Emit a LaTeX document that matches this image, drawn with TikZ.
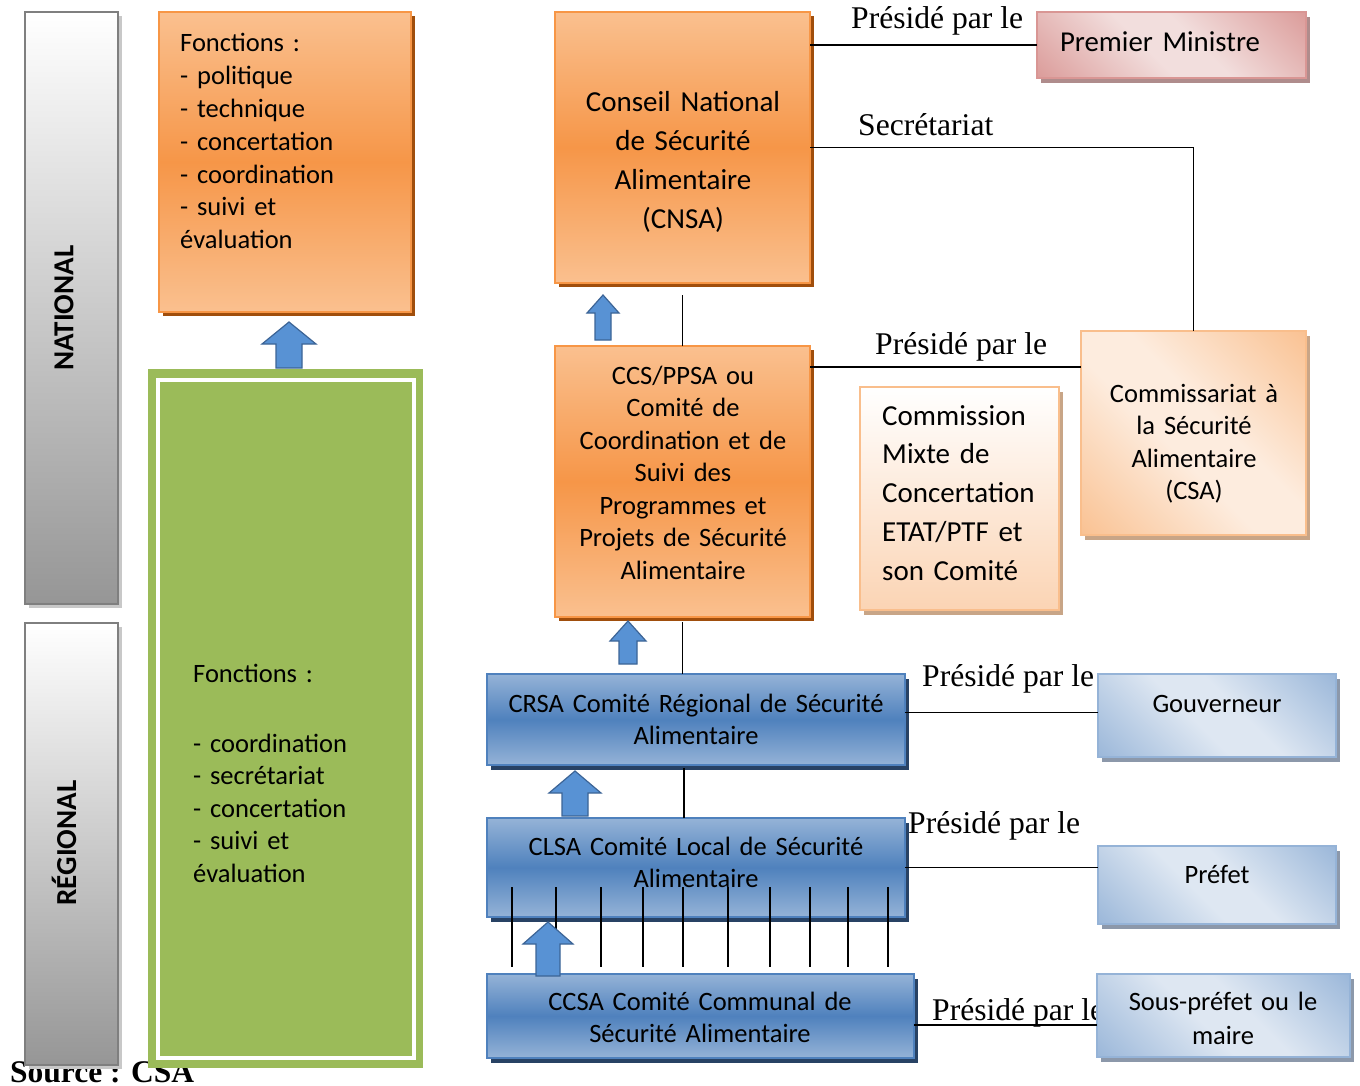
\documentclass[tikz,border=0pt]{standalone}
\usepackage{fontspec}
\setmainfont{Carlito}
\newfontfamily\tnr{Liberation Serif}
\usetikzlibrary{shadows,calc}
\definecolor{ORl}{RGB}{250,192,143}
\definecolor{ORm}{RGB}{246,150,72}
\definecolor{ORb}{RGB}{247,150,70}
\definecolor{ORs}{RGB}{160,78,12}
\definecolor{BLl}{RGB}{149,179,215}
\definecolor{BLm}{RGB}{79,129,189}
\definecolor{BLb}{RGB}{79,129,189}
\definecolor{BLs}{RGB}{40,66,100}
\definecolor{LBd}{RGB}{149,179,215}
\definecolor{LBl}{RGB}{222,231,242}
\definecolor{LBs}{RGB}{140,152,170}
\definecolor{PKd}{RGB}{217,150,148}
\definecolor{PKl}{RGB}{242,222,221}
\definecolor{PKs}{RGB}{175,140,140}
\definecolor{PCd}{RGB}{249,190,140}
\definecolor{PCl}{RGB}{253,236,222}
\definecolor{PCs}{RGB}{200,165,135}
\definecolor{CMb}{RGB}{251,212,180}
\definecolor{GRb}{RGB}{127,127,127}
\definecolor{GRd}{RGB}{150,150,150}
\definecolor{GRs}{RGB}{200,200,200}
\definecolor{GN}{RGB}{155,187,89}
\definecolor{ARf}{RGB}{88,146,212}
\definecolor{ARb}{RGB}{60,100,150}
\pgfdeclareverticalshading{diagLB}{100bp}{color(0bp)=(LBd); color(12bp)=(LBd); color(44bp)=(LBl); color(56bp)=(LBl); color(88bp)=(LBd); color(100bp)=(LBd)}
\pgfdeclareverticalshading{diagPK}{100bp}{color(0bp)=(PKd); color(12bp)=(PKd); color(44bp)=(PKl); color(56bp)=(PKl); color(88bp)=(PKd); color(100bp)=(PKd)}
\pgfdeclareverticalshading{diagPC}{100bp}{color(0bp)=(PCd); color(12bp)=(PCd); color(44bp)=(PCl); color(56bp)=(PCl); color(88bp)=(PCd); color(100bp)=(PCd)}
\newcommand\blkarrow[6]{%
  \draw[blk] (#1-#5,#3) -- (#1-#5,#2+#6) -- (#1-#4,#2+#6) -- (#1,#2) --
    (#1+#4,#2+#6) -- (#1+#5,#2+#6) -- (#1+#5,#3) -- cycle;}
\begin{document}
\begin{tikzpicture}[x=1pt,y=-1pt,
  shp/.style={rectangle, inner sep=0, outer sep=0, anchor=north west},
  orbox/.style={shp, draw=ORb, line width=2pt, top color=ORl, bottom color=ORl, middle color=ORm,
    general shadow={fill=ORs, shadow xshift=4pt, shadow yshift=-4pt}},
  bluebox/.style={shp, draw=BLb, line width=2pt, top color=BLl, bottom color=BLl, middle color=BLm,
    general shadow={fill=BLs, shadow xshift=4pt, shadow yshift=-5pt}},
  lbbox/.style={shp, draw=LBd, line width=2pt, shading=diagLB, shading angle=-45,
    general shadow={fill=LBs, shadow xshift=4pt, shadow yshift=-5pt}},
  pkbox/.style={shp, draw=PKd, line width=2pt, shading=diagPK, shading angle=-45,
    general shadow={fill=PKs, shadow xshift=4pt, shadow yshift=-5pt}},
  pcbox/.style={shp, draw=PCd, line width=2pt, shading=diagPC, shading angle=-45,
    general shadow={fill=PCs, shadow xshift=4pt, shadow yshift=-5pt}},
  cmbox/.style={shp, draw=PCd, line width=2pt, top color=white, bottom color=CMb,
    general shadow={fill=PCs, shadow xshift=4pt, shadow yshift=-5pt}},
  graybox/.style={shp, draw=GRb, line width=2.5pt, top color=white, bottom color=GRd,
    general shadow={fill=GRs, shadow xshift=4pt, shadow yshift=-4pt}},
  blk/.style={fill=ARf, draw=ARb, line width=1.2pt, line join=miter},
  conn/.style={black, line width=1.6pt},
  body/.style={inner sep=0, font=\fontsize{26.5}{32.5}\selectfont},
  bodyl/.style={inner sep=0, font=\fontsize{29}{38.8}\selectfont},
  ctext/.style={body, anchor=base, align=center, text width=#1},
  ltext/.style={body, anchor=base west, align=left, text width=#1},
  lab/.style={inner sep=0, anchor=base west, font=\tnr\fontsize{31.6}{36}\selectfont},
  vlab/.style={inner sep=0, rotate=90, font=\bfseries\fontsize{29}{35}\selectfont}
]
\useasboundingbox (0,0) rectangle (1360,1086);

% source text (under the boxes)
\node[inner sep=0, anchor=base west, font=\tnr\bfseries\fontsize{31.5}{36}\selectfont] (src) at (10,1082) {Source : CSA};

% level bars
\node[graybox, minimum width=93, minimum height=592] (nat) at (25,12) {};
\node[vlab] (natl) at (64,308) {NATIONAL};
\node[graybox, minimum width=93, minimum height=442] (reg) at (25,623) {};
\node[vlab] (regl) at (64,843) {RÉGIONAL};

% functions national
\node[orbox, minimum width=252, minimum height=300] (fnat) at (159,12) {};
\node[ltext=220pt, font=\fontsize{26.5}{32.8}\selectfont] (fnatt) at (180,52) {Fonctions :\\- politique\\- technique\\- concertation\\- coordination\\- suivi et\\évaluation};
\blkarrow{289}{322}{368}{27}{13}{22}

% functions regional
\node[shp, fill=GN, minimum width=275, minimum height=699] (freg) at (148,369) {};
\draw[white, line width=4pt] ([shift={(9.5,11)}]freg.north west) rectangle ([shift={(-9.5,-10.5)}]freg.south east);
\node[ltext=220pt] (fregt) at (193,682) {Fonctions :\\[37.5pt]- coordination\\- secrétariat\\- concertation\\- suivi et\\évaluation};

% labels
\node[lab] (l1) at (851,29) {Présidé par le};
\node[lab] (l2) at (858,136) {Secrétariat};
\node[lab] (l3) at (875,354) {Présidé par le};
\node[lab] (l4) at (922,686) {Présidé par le};
\node[lab] (l5) at (908,833) {Présidé par le};
\node[lab] (l6) at (932,1020) {Présidé par le};

% national boxes
\node[orbox, minimum width=255, minimum height=271] (cnsa) at (555,12) {};
\node[ctext=250pt, bodyl] (cnsat) at (683,112) {Conseil National\\de Sécurité\\Alimentaire\\(CNSA)};
\node[orbox, minimum width=255, minimum height=271] (ccs) at (555,346) {};
\node[ctext=250pt] (ccst) at (683,384) {CCS/PPSA ou\\Comité de\\Coordination et de\\Suivi des\\Programmes et\\Projets de Sécurité\\Alimentaire};
\blkarrow{603}{295}{340}{16}{8}{18}

\node[pkbox, minimum width=269, minimum height=66] (pm) at (1037,12) {};
\node[ctext=260pt, font=\fontsize{28.8}{34}\selectfont] (pmt) at (1160,52) {Premier Ministre};
\node[pcbox, minimum width=225, minimum height=204] (csa) at (1081,331) {};
\node[ctext=220pt] (csat) at (1194,402) {Commissariat à\\la Sécurité\\Alimentaire\\(CSA)};
\node[cmbox, minimum width=199, minimum height=223] (cm) at (860,387) {};
\node[ltext=190pt, bodyl] (cmt) at (882,425) {Commission\\Mixte de\\Concertation\\ETAT/PTF et\\son Comité};

% regional boxes
\node[bluebox, minimum width=418, minimum height=91] (crsa) at (487,674) {};
\node[ctext=410pt] (crsat) at (696,712) {CRSA Comité Régional de Sécurité\\Alimentaire};
\blkarrow{628}{621}{664}{18}{9}{20}
\node[lbbox, minimum width=238, minimum height=83] (gouv) at (1098,674) {};
\node[ctext=230pt] (gouvt) at (1217,712) {Gouverneur};

\node[bluebox, minimum width=418, minimum height=99] (clsa) at (487,818) {};
\node[ctext=410pt] (clsat) at (696,855) {CLSA Comité Local de Sécurité\\Alimentaire};
\blkarrow{575}{771}{816}{26}{13}{22}
\node[lbbox, minimum width=238, minimum height=78] (pref) at (1098,846) {};
\node[ctext=230pt] (preft) at (1217,883) {Préfet};

\node[bluebox, minimum width=427, minimum height=84] (ccsa) at (487,974) {};
\node[ctext=420pt] (ccsat) at (700,1010) {CCSA Comité Communal de\\Sécurité Alimentaire};
\node[lbbox, minimum width=253, minimum height=83] (sp) at (1097,974) {};
\node[ctext=245pt, font=\fontsize{26.5}{34}\selectfont] (spt) at (1223,1010) {Sous-préfet ou le\\maire};

% connectors
\draw[conn] (pm.west -| cnsa.east) -- (pm.west);
\draw[conn] (cnsa.east) -| (csa.north);
\draw[conn] ([yshift=-21pt]ccs.north east) coordinate (c1) -- (c1 -| csa.west);
\draw[conn] (ccs.north) -- ++(0,-51);
\draw[conn] ([yshift=-5pt]ccs.south) -- (ccs.south |- crsa.north);
\draw[conn] ([xshift=-12pt]clsa.north) -- ([xshift=-12pt,yshift=-3pt]clsa.north |- crsa.south);
\draw[conn] ([yshift=3pt]gouv.west -| crsa.east) -- ([yshift=3pt]gouv.west);
\draw[conn] (clsa.east) -- (clsa.east -| pref.west);
\draw[conn] ([yshift=-9pt]ccsa.east) coordinate (c2) -- (c2 -| sp.west);
\foreach \x in {512,556,601,643,683,728,770,810,848,888}
  \draw[conn] (\x,887) -- (\x,967);
\blkarrow{548}{922}{976}{25}{12}{22}
\end{tikzpicture}
\end{document}
